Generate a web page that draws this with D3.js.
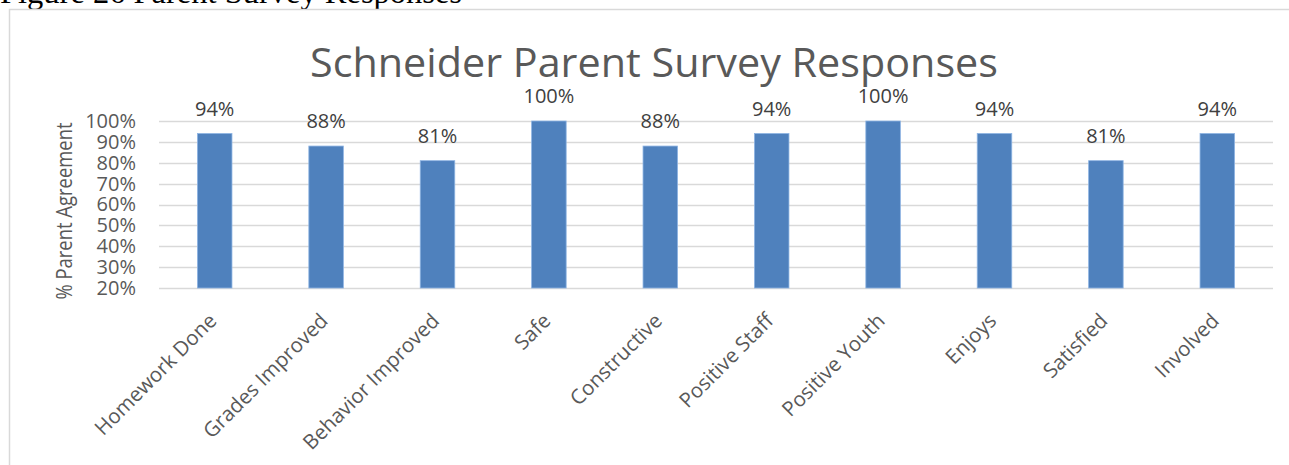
<!DOCTYPE html>
<html>
<head>
<meta charset="utf-8">
<script src="https://cdn.jsdelivr.net/npm/d3@7"></script>
<style>
  html, body { margin: 0; padding: 0; background: #fff; }
  svg { display: block; }
</style>
</head>
<body>
<svg id="chart" width="1289" height="465"></svg>
<script>
// Survey items and share of parents agreeing (%)
const categories = ["Homework Done", "Grades Improved", "Behavior Improved", "Safe", "Constructive",
                    "Positive Staff", "Positive Youth", "Enjoys", "Satisfied", "Involved"];
const agreement = [94, 88, 81, 100, 88, 94, 100, 94, 81, 94];
const yTicks = [20, 30, 40, 50, 60, 70, 80, 90, 100];

const svg = d3.select("#chart");
const font = "'Open Sans', sans-serif";
const textColor = "#595959";

// Caption above the chart frame (partly clipped by the page top)
svg.append("text")
  .attr("x", 0).attr("y", 3)
  .attr("font-family", "'Liberation Serif', 'Times New Roman', serif")
  .attr("font-size", 32)
  .attr("fill", "#000")
  .attr("textLength", 462)
  .attr("lengthAdjust", "spacingAndGlyphs")
  .text("Figure 26 Parent Survey Responses");

// Chart frame
svg.append("rect")
  .attr("x", 9.5).attr("y", 9.5)
  .attr("width", 1400).attr("height", 600)
  .attr("fill", "#fff")
  .attr("stroke", "#d9d9d9").attr("stroke-width", 1.5);

const plot = { left: 159, right: 1273, top: 121, bottom: 288 };

const x = d3.scaleBand()
  .domain(categories)
  .range([plot.left, plot.right])
  .paddingInner(0.69)
  .paddingOuter(0.345);

const y = d3.scaleLinear()
  .domain([20, 100])
  .range([plot.bottom, plot.top]);

// Title
svg.append("text")
  .attr("x", 654).attr("y", 77)
  .attr("text-anchor", "middle")
  .attr("font-family", font)
  .attr("font-size", 40)
  .attr("fill", textColor)
  .attr("textLength", 688)
  .attr("lengthAdjust", "spacingAndGlyphs")
  .text("Schneider Parent Survey Responses");

// Horizontal gridlines
svg.append("g")
  .selectAll("line")
  .data(yTicks)
  .join("line")
  .attr("x1", plot.left).attr("x2", plot.right)
  .attr("y1", d => Math.round(y(d)) + 0.5)
  .attr("y2", d => Math.round(y(d)) + 0.5)
  .attr("stroke", "#d9d9d9").attr("stroke-width", 1.5);

// Y axis tick labels
const yAxis = d3.axisLeft(y)
  .tickValues(yTicks)
  .tickFormat(d => d + "%")
  .tickSize(0)
  .tickPadding(0);
const yG = svg.append("g")
  .attr("transform", `translate(${plot.left - 23},0)`)
  .call(yAxis);
yG.select(".domain").remove();
yG.selectAll("text")
  .attr("font-family", font)
  .attr("font-size", 20)
  .attr("fill", textColor);

// Y axis title
svg.append("text")
  .attr("transform", "translate(72,211) rotate(-90)")
  .attr("text-anchor", "middle")
  .attr("font-family", font)
  .attr("font-size", 21)
  .attr("fill", textColor)
  .attr("textLength", 177)
  .attr("lengthAdjust", "spacingAndGlyphs")
  .text("% Parent Agreement");

// Bars
svg.append("g")
  .selectAll("rect")
  .data(categories)
  .join("rect")
  .attr("x", d => x(d))
  .attr("width", x.bandwidth())
  .attr("y", (d, i) => y(agreement[i]))
  .attr("height", (d, i) => y(20) - y(agreement[i]))
  .attr("fill", "#4f81bd")
  .attr("stroke", "#8eb4e3")
  .attr("stroke-width", 0.8);

// Value labels
svg.append("g")
  .selectAll("text")
  .data(categories)
  .join("text")
  .attr("x", d => x(d) + x.bandwidth() / 2)
  .attr("y", (d, i) => y(agreement[i]) - 18)
  .attr("text-anchor", "middle")
  .attr("font-family", font)
  .attr("font-size", 20)
  .attr("fill", "#404040")
  .text((d, i) => agreement[i] + "%");

// Category labels, rotated
const xAxis = d3.axisBottom(x).tickSize(0).tickPadding(0);
const xG = svg.append("g")
  .attr("transform", `translate(0,${plot.bottom})`)
  .call(xAxis);
xG.select(".domain").remove();
xG.selectAll("text")
  .attr("font-family", font)
  .attr("font-size", 20.5)
  .attr("fill", textColor)
  .attr("text-anchor", "end")
  .attr("dy", "0.35em")
  .attr("y", 0)
  .attr("transform", "translate(-2,29) rotate(-45)");
</script>
</body>
</html>
